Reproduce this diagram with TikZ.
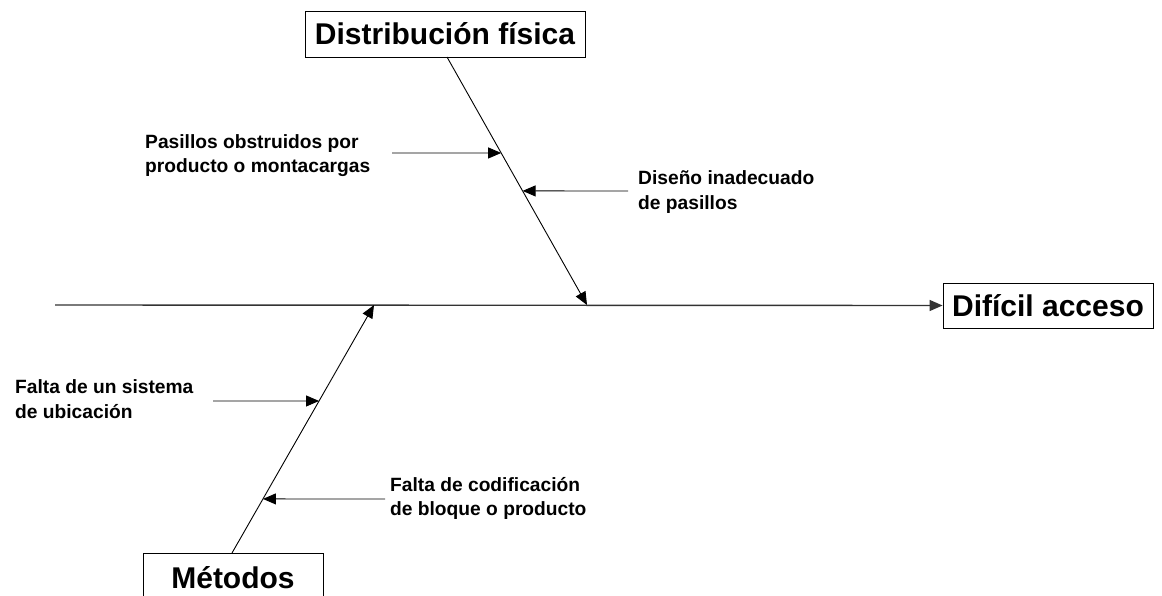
\documentclass[tikz,border=0pt]{standalone}
\usepackage{fontspec}
\setmainfont{Liberation Sans}
\usetikzlibrary{arrows.meta,calc}
\begin{document}
\begin{tikzpicture}[x=1pt,y=-1pt,
  box/.style={draw,line width=0.9pt,inner sep=0pt,font=\bfseries\fontsize{30}{33}\selectfont},
  lbl/.style={anchor=west,align=left,inner sep=0pt,font=\bfseries\fontsize{19.2}{24.5}\selectfont},
  tip/.style={-{Triangle[length=13pt,width=11pt]}},
  arr/.style={line width=0.9pt,tip}]
\useasboundingbox (0,0) rectangle (1162,596);
% boxes
\node[box,minimum width=280pt,minimum height=46pt] (dist) at (445,34) {Distribución física};
\node[box,minimum width=210pt,minimum height=45pt] (efecto) at (1048,305.5) {Difícil acceso};
\node[box,minimum width=180pt,minimum height=47pt] (met) at (233,576.5) {};
\node[font=\bfseries\fontsize{30}{33}\selectfont] (mett) at (233,578) {Métodos};
% spine
\coordinate (s0) at (55,305);
\draw[line width=1.4pt,draw=black!80,tip] (s0) -- (efecto.west);
% bones
\coordinate (d0) at (447,57);
\coordinate (d1) at (587,305);
\coordinate (m0) at (232,553);
\coordinate (m1) at (374,305);
\draw[arr] (d0) -- (d1);
\draw[arr] (m0) -- (m1);
% sub causes
\coordinate (a1s) at (392,153);
\coordinate (a1e) at ($(d0)!0.387!(d1)$);
\coordinate (a2s) at (628,191);
\coordinate (a2e) at ($(d0)!0.540!(d1)$);
\coordinate (b1s) at (213,401);
\coordinate (b1e) at ($(m0)!0.613!(m1)$);
\coordinate (b2s) at (385,499);
\coordinate (b2e) at ($(m0)!0.218!(m1)$);
\draw[arr] (a1s) -- (a1e);
\draw[arr] (a2s) -- (a2e);
\draw[arr] (b1s) -- (b1e);
\draw[arr] (b2s) -- (b2e);
% labels
\node[lbl] (l1) at (145,155.5) {Pasillos obstruidos por\\producto o montacargas};
\node[lbl] (l2) at (638,192) {Diseño inadecuado\\de pasillos};
\node[lbl] (l3) at (15,399) {Falta de un sistema\\de ubicación};
\node[lbl] (l4) at (390,498.5) {Falta de codificación\\de bloque o producto};
\end{tikzpicture}
\end{document}
